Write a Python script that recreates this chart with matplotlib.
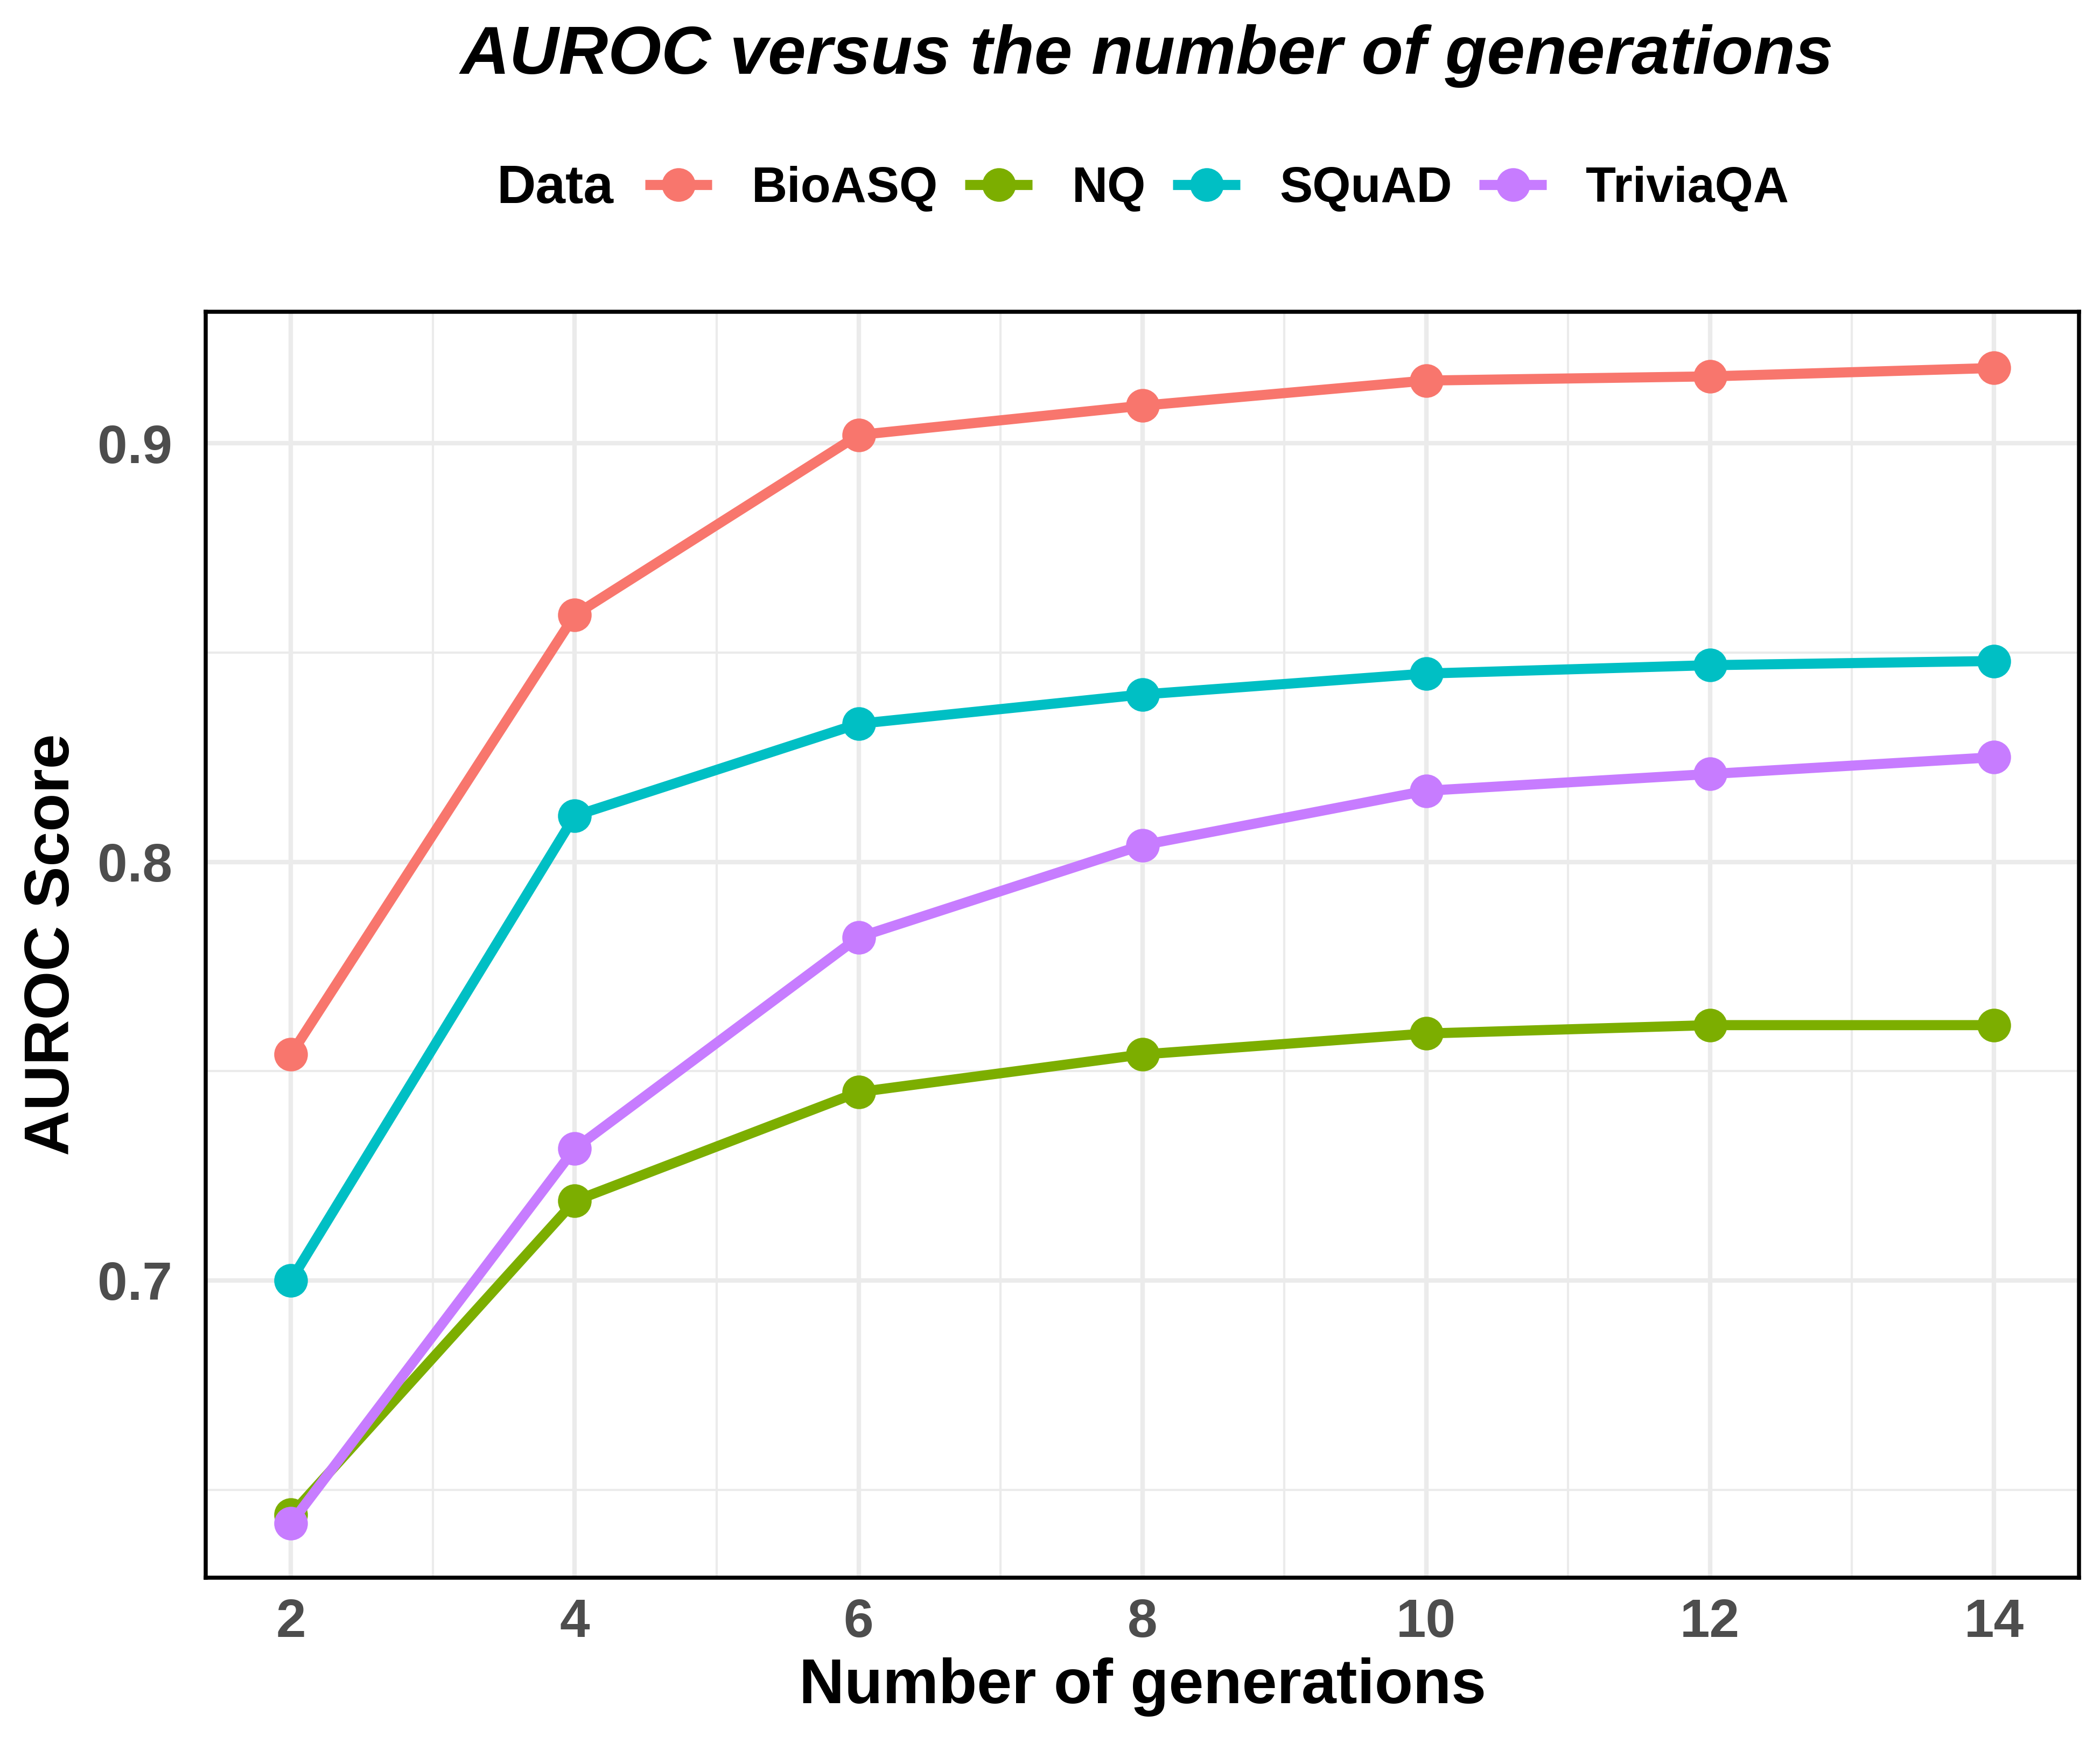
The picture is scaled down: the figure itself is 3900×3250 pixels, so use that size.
import matplotlib.pyplot as plt
from matplotlib.ticker import MultipleLocator

plt.rcParams['font.family'] = ['Liberation Sans', 'DejaVu Sans']

# Data
generations = [2, 4, 6, 8, 10, 12, 14]
bioasq = [0.754, 0.859, 0.902, 0.909, 0.915, 0.916, 0.918]
nq = [0.644, 0.719, 0.745, 0.754, 0.759, 0.761, 0.761]
squad = [0.700, 0.811, 0.833, 0.840, 0.845, 0.847, 0.848]
triviaqa = [0.642, 0.7315, 0.782, 0.804, 0.817, 0.821, 0.825]

series = [
    ("BioASQ", bioasq, "#F8766D"),
    ("NQ", nq, "#7CAE00"),
    ("SQuAD", squad, "#00BFC4"),
    ("TriviaQA", triviaqa, "#C77CFF"),
]

fig = plt.figure(figsize=(13, 3250 / 300), dpi=300)
ax = fig.add_axes([0.098, 0.0985, 0.892, 0.7235])

for name, vals, col in series:
    ax.plot(generations, vals, color=col, lw=4.5, marker='o', ms=14,
            label=name, solid_capstyle='butt')

ax.set_xlim(1.4, 14.6)
ax.set_ylim(0.629, 0.9315)
ax.xaxis.set_major_locator(MultipleLocator(2))
ax.xaxis.set_minor_locator(MultipleLocator(1))
ax.yaxis.set_minor_locator(MultipleLocator(0.05))
ax.set_yticks([0.7, 0.8, 0.9])
ax.set_yticklabels(["0.7", "0.8", "0.9"])

ax.grid(which='major', color='#EBEBEB', lw=2.0)
ax.grid(which='minor', color='#EBEBEB', lw=1.0)
ax.set_axisbelow(True)
for sp in ax.spines.values():
    sp.set_linewidth(1.8)
    sp.set_color('black')

ax.tick_params(which='both', length=0)
ax.tick_params(axis='y', pad=15)
ax.tick_params(axis='x', pad=9)
ax.tick_params(labelsize=24, labelcolor='#4D4D4D')
for lab in ax.get_xticklabels() + ax.get_yticklabels():
    lab.set_fontweight('bold')

ax.set_xlabel("Number of generations", fontsize=28, fontweight='bold', labelpad=4)
ax.set_ylabel("AUROC Score", fontsize=28, fontweight='bold', labelpad=7)

fig.text(0.546, 0.968, "AUROC versus the number of generations", fontsize=30.5,
         fontweight='bold', style='italic', ha='center', va='center')

fig.text(0.2365, 0.892, "Data", fontsize=24, fontweight='bold',
         ha='left', va='center')
leg = fig.legend(loc='center', bbox_to_anchor=(0.5795, 0.892), ncol=4,
                 frameon=False, prop={'size': 22, 'weight': 'bold'},
                 handlelength=1.36, handletextpad=0.8, columnspacing=0.55,
                 borderpad=0, borderaxespad=0)

fig.savefig("out.png", dpi=300, facecolor='white')
